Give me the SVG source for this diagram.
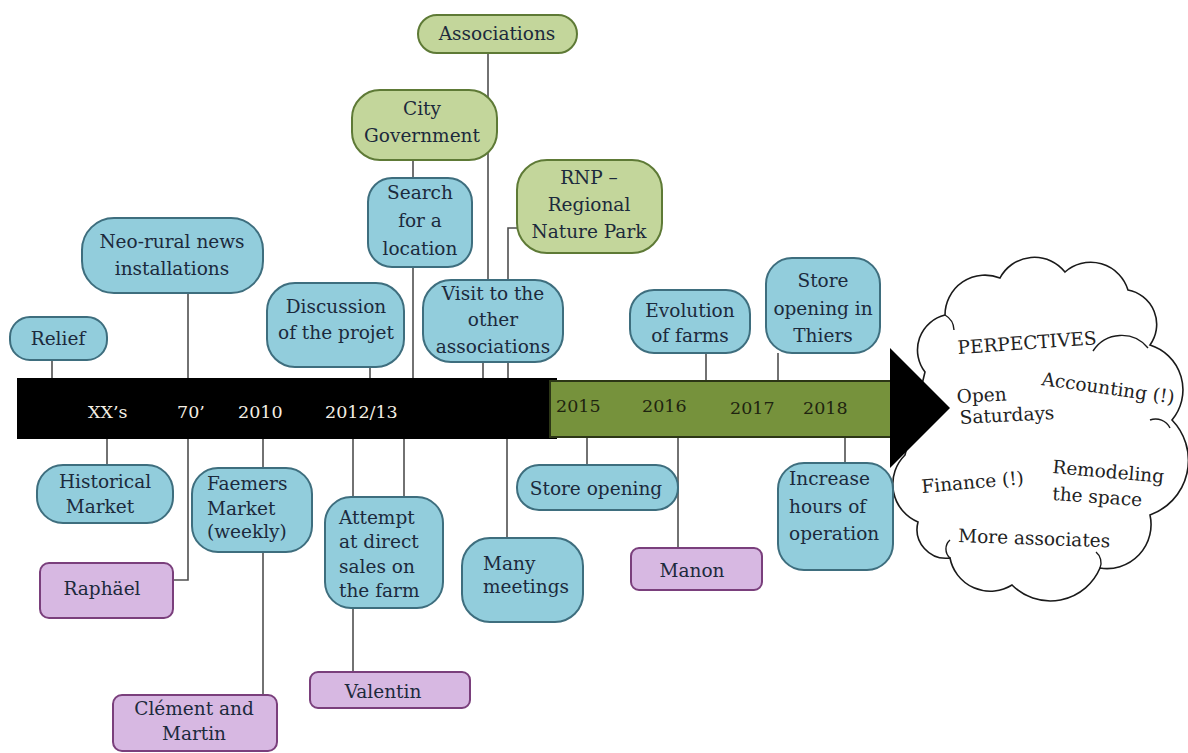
<svg xmlns="http://www.w3.org/2000/svg" width="1188" height="753" viewBox="0 0 1188 753">
<style>
.b{fill:#92cddc;stroke:#3e6e7e;stroke-width:2}
.g{fill:#c3d69b;stroke:#5e7a36;stroke-width:2}
.p{fill:#d7b8e2;stroke:#7a3f7c;stroke-width:2}
text{font-family:"DejaVu Serif","Liberation Serif",serif;font-size:18.5px;fill:#1c2a3c}
.c{text-anchor:middle}
.yw{fill:#f4efe4;font-size:17.5px}
.yg{fill:#1e2410;font-size:17.5px}
.ct{fill:#222;font-size:18.5px}
.ln{stroke:#4f4f4f;stroke-width:1.6;fill:none}
.ia{fill:none;stroke:#1a1a1a;stroke-width:1.4}
</style>
<rect width="1188" height="753" fill="#ffffff"/>

<g id="connectors">
<path class="ln" d="M52 360V378"/>
<path class="ln" d="M188 293V378"/>
<path class="ln" d="M370 367V378"/>
<path class="ln" d="M413 160V378"/>
<path class="ln" d="M488 53V280"/>
<path class="ln" d="M483 362V378"/>
<path class="ln" d="M518 228H508V378"/>
<path class="ln" d="M706 353V380"/>
<path class="ln" d="M778 353V380"/>
<path class="ln" d="M107 438V465"/>
<path class="ln" d="M188 438V580H173"/>
<path class="ln" d="M263 438V695"/>
<path class="ln" d="M353 438V672"/>
<path class="ln" d="M404 438V497"/>
<path class="ln" d="M507 438V538"/>
<path class="ln" d="M587 438V465"/>
<path class="ln" d="M678 438V548"/>
<path class="ln" d="M845 438V463"/>
</g>

<g id="cloud">
<path d="M925 372 A36 36 0 0 1 945 315 A40 40 0 0 1 1000 278 A39 39 0 0 1 1065 272 A39 39 0 0 1 1128 290 A35 35 0 0 1 1150 345 A47 47 0 0 1 1172 420 A58 58 0 0 1 1150 515 A44 44 0 0 1 1100 568 A54 54 0 0 1 1012 585 A41 41 0 0 1 950 558 A29 29 0 0 1 918 522 A41 41 0 0 1 905 455 Z" fill="#ffffff" stroke="#1a1a1a" stroke-width="1.6"/>
<path class="ia" d="M1093 351 A34 34 0 0 1 1148 348"/>
<path class="ia" d="M1150 420 A16 16 0 0 1 1170 428"/>
<path class="ia" d="M1100 568 A14 14 0 0 0 1096 552"/>
<path class="ia" d="M950 558 A12 12 0 0 1 950 540"/>
<path class="ia" d="M945 315 A18 18 0 0 1 954 330"/>
<text class="ct" transform="translate(958 354) rotate(-4)">PERPECTIVES</text>
<text class="ct" transform="translate(957 403) rotate(-3)">Open</text>
<text class="ct" transform="translate(960 424) rotate(-3)">Saturdays</text>
<text class="ct" transform="translate(1041 385) rotate(8)">Accounting (!)</text>
<text class="ct" transform="translate(922 493) rotate(-5)">Finance (!)</text>
<text class="ct" transform="translate(1052 473) rotate(5)">Remodeling</text>
<text class="ct" transform="translate(1052 500) rotate(4)">the space</text>
<text class="ct" transform="translate(958 542) rotate(2)">More associates</text>
</g>

<g id="timeline">
<rect x="17" y="378" width="540" height="61" fill="#000000"/>
<rect x="550" y="381" width="343" height="56" fill="#76923c" stroke="#2c3616" stroke-width="2"/>
<polygon points="890,348 950,408 890,468" fill="#000000"/>
<text class="yw" x="88" y="418">XX’s</text>
<text class="yw" x="177" y="418">70’</text>
<text class="yw" x="238" y="418">2010</text>
<text class="yw" x="325" y="418">2012/13</text>
<text class="yg" x="556" y="412">2015</text>
<text class="yg" x="642" y="412">2016</text>
<text class="yg" x="730" y="414">2017</text>
<text class="yg" x="803" y="414">2018</text>
</g>

<g id="n-relief"><rect class="b" x="10" y="317" width="97" height="43" rx="20"/><text class="c" x="58" y="345">Relief</text></g>
<g id="n-neorural"><rect class="b" x="82" y="218" width="181" height="75" rx="32"/><text class="c" x="172" y="248">Neo-rural news</text><text class="c" x="172" y="275">installations</text></g>
<g id="n-discussion"><rect class="b" x="267" y="283" width="137" height="84" rx="28"/><text class="c" x="336" y="313">Discussion</text><text class="c" x="336" y="339">of the projet</text></g>
<g id="n-citygov"><rect class="g" x="352" y="90" width="145" height="70" rx="28"/><text class="c" x="422" y="115">City</text><text class="c" x="422" y="142">Government</text></g>
<g id="n-search"><rect class="b" x="368" y="178" width="104" height="89" rx="24"/><text class="c" x="420" y="199">Search</text><text class="c" x="420" y="227">for a</text><text class="c" x="420" y="255">location</text></g>
<g id="n-associations"><rect class="g" x="418" y="15" width="159" height="38" rx="19"/><text class="c" x="497" y="40">Associations</text></g>
<g id="n-visit"><rect class="b" x="423" y="280" width="140" height="82" rx="28"/><text class="c" x="493" y="300">Visit to the</text><text class="c" x="493" y="326">other</text><text class="c" x="493" y="353">associations</text></g>
<g id="n-rnp"><rect class="g" x="517" y="160" width="145" height="93" rx="30"/><text class="c" x="589" y="184">RNP –</text><text class="c" x="589" y="211">Regional</text><text class="c" x="589" y="238">Nature Park</text></g>
<g id="n-evolution"><rect class="b" x="630" y="290" width="120" height="63" rx="24"/><text class="c" x="690" y="317">Evolution</text><text class="c" x="690" y="342">of farms</text></g>
<g id="n-thiers"><rect class="b" x="766" y="258" width="114" height="95" rx="26"/><text class="c" x="823" y="287">Store</text><text class="c" x="823" y="315">opening in</text><text class="c" x="823" y="342">Thiers</text></g>

<g id="n-historical"><rect class="b" x="37" y="465" width="136" height="58" rx="26"/><text class="c" x="105" y="488">Historical</text><text class="c" x="100" y="513">Market</text></g>
<g id="n-faemers"><rect class="b" x="192" y="468" width="120" height="84" rx="26"/><text x="207" y="490">Faemers</text><text x="207" y="515">Market</text><text x="207" y="538">(weekly)</text></g>
<g id="n-raphael"><rect class="p" x="40" y="563" width="133" height="55" rx="9"/><text class="c" x="102" y="595">Raphäel</text></g>
<g id="n-clement"><rect class="p" x="113" y="695" width="164" height="56" rx="9"/><text class="c" x="194" y="715">Clément and</text><text class="c" x="194" y="740">Martin</text></g>
<g id="n-attempt"><rect class="b" x="325" y="497" width="118" height="111" rx="26"/><text x="339" y="524">Attempt</text><text x="339" y="548">at direct</text><text x="339" y="573">sales on</text><text x="339" y="597">the farm</text></g>
<g id="n-valentin"><rect class="p" x="310" y="672" width="160" height="36" rx="8"/><text class="c" x="383" y="698">Valentin</text></g>
<g id="n-meetings"><rect class="b" x="462" y="538" width="121" height="84" rx="28"/><text x="483" y="570">Many</text><text x="483" y="593">meetings</text></g>
<g id="n-storeopening"><rect class="b" x="517" y="465" width="161" height="45" rx="22"/><text class="c" x="596" y="495">Store opening</text></g>
<g id="n-manon"><rect class="p" x="631" y="548" width="131" height="42" rx="8"/><text class="c" x="692" y="577">Manon</text></g>
<g id="n-increase"><rect class="b" x="778" y="463" width="115" height="107" rx="26"/><text x="789" y="485">Increase</text><text x="789" y="513">hours of</text><text x="789" y="540">operation</text></g>
</svg>
